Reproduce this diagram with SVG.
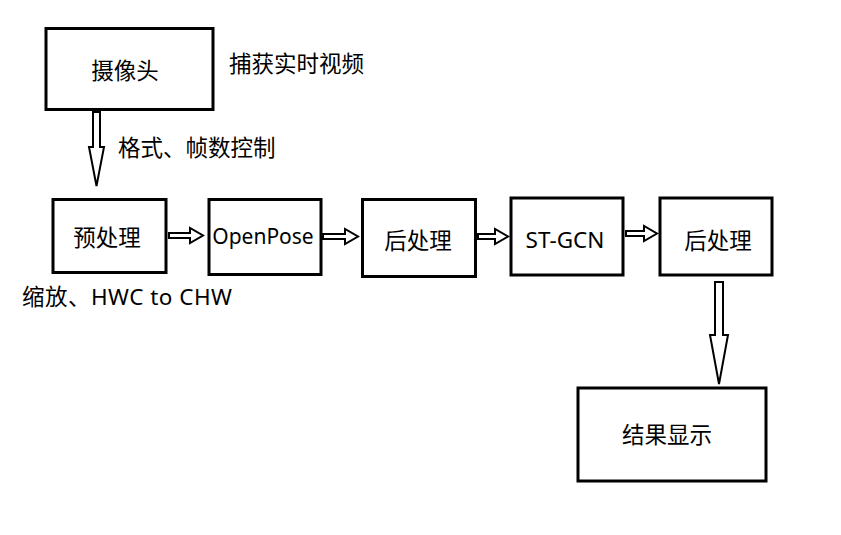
<svg xmlns="http://www.w3.org/2000/svg" width="841" height="535" viewBox="0 0 841 535">
<style>
.box{fill:#fff;stroke:#000;stroke-width:3}
.t{font-family:"Noto Sans","Noto Sans CJK SC",sans-serif;font-size:22.5px;fill:#000}
.l{font-size:21px}
.m{text-anchor:middle;dominant-baseline:central}
.arr{fill:#fff;stroke:#000;stroke-width:2;stroke-linejoin:miter}
</style>
<rect width="841" height="535" fill="#fff"/>
<g id="connectors">
<path class="arr" d="M93,112 H100 V147 H104 L96.5,186 L89,147 H93 Z"/>
<path class="arr" d="M169,233 H190 V228 L203,235.5 L190,243 V238 H169 Z"/>
<path class="arr" d="M323,234 H345 V229 L358,236.5 L345,244 V239 H323 Z"/>
<path class="arr" d="M478,234 H495 V229 L508,236.5 L495,244 V239 H478 Z"/>
<path class="arr" d="M626,231 H644 V226 L657,233.5 L644,241 V236 H626 Z"/>
<path class="arr" d="M715,282 H723 V335 H728 L719,384 L710,335 H715 Z"/>
</g>
<g id="camera">
<rect class="box" x="46" y="28.5" width="167" height="81"/>
<text class="t m" x="125" y="70">摄像头</text>
</g>
<text class="t" x="229" y="72">捕获实时视频</text>
<text class="t" x="118" y="156">格式、帧数控制</text>
<g id="preprocess">
<rect class="box" x="53" y="199.5" width="113" height="73"/>
<text class="t m" x="107" y="237">预处理</text>
</g>
<text class="t" x="22" y="305" textLength="210" lengthAdjust="spacing">缩放、HWC to CHW</text>
<g id="openpose">
<rect class="box" x="209" y="199.5" width="112" height="75"/>
<text class="t l m" x="263" y="236">OpenPose</text>
</g>
<g id="postprocess1">
<rect class="box" x="362.5" y="199.5" width="113" height="77"/>
<text class="t m" x="418" y="240">后处理</text>
</g>
<g id="stgcn">
<rect class="box" x="511" y="198" width="112" height="77"/>
<text class="t m" x="565" y="239">ST-GCN</text>
</g>
<g id="postprocess2">
<rect class="box" x="660" y="198" width="112" height="77"/>
<text class="t m" x="718" y="240">后处理</text>
</g>
<g id="display">
<rect class="box" x="578" y="388" width="188" height="93"/>
<text class="t m" x="667" y="434">结果显示</text>
</g>
</svg>
